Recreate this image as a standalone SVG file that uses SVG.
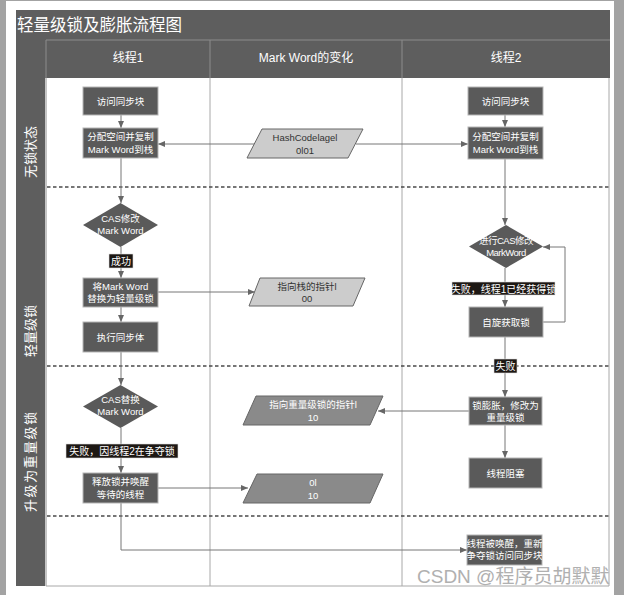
<svg xmlns="http://www.w3.org/2000/svg" width="624" height="595" viewBox="0 0 624 595">
<style>
text{font-family:"Liberation Sans","Noto Sans CJK SC",sans-serif;}
.box{fill:#5a5a5a;stroke:#b5b5b5;stroke-width:1;}
.wt{fill:#fff;font-size:9.5px;text-anchor:middle;}
.dt{fill:#333;font-size:9.5px;text-anchor:middle;}
.lp{fill:#cccccc;stroke:#666;stroke-width:1;}
.dp{fill:#8a8a8a;stroke:#666;stroke-width:1;}
.lbl{fill:#1d1814;stroke:#ddd;stroke-width:0.6;}
.lt{fill:#fff;font-size:10px;text-anchor:middle;}
.ln{fill:none;stroke:#777;stroke-width:1;}
.col{stroke:#a8a8a8;stroke-width:1;}
.dash{stroke:#4a4a4a;stroke-width:1.6;stroke-dasharray:3.5 2.5;}
.hd{fill:#fff;font-size:12px;text-anchor:middle;}
.lane{fill:#fff;font-size:13px;}
</style>
<defs>
<marker id="ah" markerWidth="8" markerHeight="8" refX="7" refY="4" orient="auto" markerUnits="userSpaceOnUse">
<path d="M0,1 L7,4 L0,7 Z" fill="#666"/>
</marker>
</defs>
<rect x="0" y="0" width="624" height="595" fill="#a3a3a3"/>
<rect x="6" y="1" width="608" height="594" fill="#fff"/>
<g id="frame">
<rect x="16" y="10" width="594" height="29" fill="#5e5e5e"/>
<text x="17" y="31" fill="#fff" font-size="16.5">轻量级锁及膨胀流程图</text>
<rect x="16" y="39" width="594" height="39" fill="#5e5e5e"/>
<rect x="16" y="39" width="29" height="547" fill="#5e5e5e"/>
<line x1="46" y1="40" x2="610" y2="40" stroke="#8c8c8c"/>
<line x1="46" y1="40" x2="46" y2="586" stroke="#8c8c8c"/>
<line x1="210" y1="40" x2="210" y2="78" stroke="#8c8c8c"/>
<line x1="402" y1="40" x2="402" y2="78" stroke="#8c8c8c"/>
<text class="hd" x="128" y="62">线程1</text>
<text class="hd" x="306" y="62">Mark Word的变化</text>
<text class="hd" x="506" y="62">线程2</text>
<line class="col" x1="210" y1="78" x2="210" y2="586"/>
<line class="col" x1="402" y1="78" x2="402" y2="586"/>
<line class="col" x1="609" y1="78" x2="609" y2="586"/>
<line class="col" x1="46" y1="586" x2="609" y2="586"/>
<line class="dash" x1="47" y1="187" x2="609" y2="187"/>
<line class="dash" x1="47" y1="366" x2="609" y2="366"/>
<line class="dash" x1="47" y1="516" x2="609" y2="516"/>
<text class="lane" transform="translate(35,178) rotate(-90)">无锁状态</text>
<text class="lane" transform="translate(35,357) rotate(-90)">轻量级锁</text>
<text class="lane" transform="translate(35,512) rotate(-90)" letter-spacing="1.5">升级为重量级锁</text>
</g>
<g id="connectors">
<line class="ln" x1="121" y1="115" x2="121" y2="128" marker-end="url(#ah)"/>
<line class="ln" x1="121" y1="158" x2="121" y2="203" marker-end="url(#ah)"/>
<line class="ln" x1="121" y1="247" x2="121" y2="278" marker-end="url(#ah)"/>
<line class="ln" x1="121" y1="307" x2="121" y2="322" marker-end="url(#ah)"/>
<line class="ln" x1="121" y1="352" x2="121" y2="385" marker-end="url(#ah)"/>
<line class="ln" x1="121" y1="428" x2="121" y2="473" marker-end="url(#ah)"/>
<polyline class="ln" points="121,503 121,550 467,550" marker-end="url(#ah)"/>
<line class="ln" x1="158" y1="292" x2="255" y2="292" marker-end="url(#ah)"/>
<line class="ln" x1="158" y1="488" x2="248" y2="488" marker-end="url(#ah)"/>
<line class="ln" x1="254" y1="144" x2="158" y2="144" marker-end="url(#ah)"/>
<line class="ln" x1="356" y1="144" x2="468" y2="144" marker-end="url(#ah)"/>
<line class="ln" x1="505" y1="115" x2="505" y2="127" marker-end="url(#ah)"/>
<line class="ln" x1="505" y1="159" x2="505" y2="225" marker-end="url(#ah)"/>
<line class="ln" x1="505" y1="268" x2="505" y2="307" marker-end="url(#ah)"/>
<polyline class="ln" points="543,322 565,322 565,247 543,247" marker-end="url(#ah)"/>
<line class="ln" x1="505" y1="337" x2="505" y2="397" marker-end="url(#ah)"/>
<line class="ln" x1="469" y1="411" x2="378" y2="411" marker-end="url(#ah)"/>
<line class="ln" x1="505" y1="425" x2="505" y2="458" marker-end="url(#ah)"/>
</g>
<g id="t1-access">
<rect class="box" x="83" y="87" width="75" height="28"/>
<text class="wt" x="120.5" y="104.5">访问同步块</text>
</g>
<g id="t1-alloc">
<rect class="box" x="83" y="128" width="75" height="30"/>
<text class="wt" x="120.5" y="140">分配空间并复制</text>
<text class="wt" x="120.5" y="153">Mark Word到栈</text>
</g>
<g id="mw-hash">
<polygon class="lp" points="262,129 363,129 348,158 247,158"/>
<text class="dt" x="305" y="141">HashCodelagel</text>
<text class="dt" x="305" y="154">0l01</text>
</g>
<g id="t2-access">
<rect class="box" x="468" y="87" width="75" height="28"/>
<text class="wt" x="505.5" y="104.5">访问同步块</text>
</g>
<g id="t2-alloc">
<rect class="box" x="468" y="127" width="75" height="32"/>
<text class="wt" x="505.5" y="140">分配空间并复制</text>
<text class="wt" x="505.5" y="153">Mark Word到栈</text>
</g>
<g id="t1-cas1">
<polygon fill="#5a5a5a" points="120.5,203 158,225 120.5,247 83,225"/>
<text class="wt" x="120.5" y="222">CAS修改</text>
<text class="wt" x="120.5" y="234">Mark Word</text>
</g>
<g id="lbl-success">
<rect class="lbl" x="109" y="254" width="24" height="14"/>
<text class="lt" x="121" y="265">成功</text>
</g>
<g id="t1-replace">
<rect class="box" x="83" y="278" width="75" height="29"/>
<text class="wt" x="120.5" y="290">将Mark Word</text>
<text class="wt" x="120.5" y="302">替换为轻量级锁</text>
</g>
<g id="t1-exec">
<rect class="box" x="83" y="322" width="75" height="30"/>
<text class="wt" x="120.5" y="340.5">执行同步体</text>
</g>
<g id="mw-stack">
<polygon class="lp" points="260,278 365,278 353,306 249,306"/>
<text class="dt" x="307" y="290">指向栈的指针l</text>
<text class="dt" x="307" y="302">00</text>
</g>
<g id="t2-cas">
<polygon fill="#5a5a5a" points="506,225 543,246.5 506,268 469,246.5"/>
<text class="wt" x="506" y="244" font-size="9" letter-spacing="-0.5">进行CAS修改</text>
<text class="wt" x="506" y="256" font-size="9" letter-spacing="-0.5">MarkWord</text>
</g>
<g id="lbl-fail1">
<rect class="lbl" x="452" y="282" width="103" height="13"/>
<text class="lt" x="503.5" y="292.5">失败，线程1已经获得锁</text>
</g>
<g id="t2-spin">
<rect class="box" x="469" y="307" width="74" height="30"/>
<text class="wt" x="506" y="325.5">自旋获取锁</text>
</g>
<g id="lbl-fail2">
<rect class="lbl" x="494" y="359" width="23" height="14"/>
<text class="lt" x="505.5" y="370">失败</text>
</g>
<g id="t1-cas2">
<polygon fill="#5a5a5a" points="120.5,385 158,406.5 120.5,428 83,406.5"/>
<text class="wt" x="120.5" y="403">CAS替换</text>
<text class="wt" x="120.5" y="415">Mark Word</text>
</g>
<g id="lbl-fail3">
<rect class="lbl" x="66" y="444" width="112" height="14"/>
<text class="lt" x="122" y="455">失败，因线程2在争夺锁</text>
</g>
<g id="t1-release">
<rect class="box" x="83" y="473" width="75" height="30"/>
<text class="wt" x="120.5" y="485">释放锁并唤醒</text>
<text class="wt" x="120.5" y="498">等待的线程</text>
</g>
<g id="mw-heavy">
<polygon class="dp" points="256,396 383,396 370,425 243,425"/>
<text class="wt" x="313" y="408">指向重量级锁的指针l</text>
<text class="wt" x="313" y="421">10</text>
</g>
<g id="mw-0l10">
<polygon class="dp" points="257,474 383,474 370,503 243,503"/>
<text class="wt" x="313" y="486">0l</text>
<text class="wt" x="313" y="499">10</text>
</g>
<g id="t2-inflate">
<rect class="box" x="469" y="397" width="73" height="28"/>
<text class="wt" x="505.5" y="409">锁膨胀，修改为</text>
<text class="wt" x="505.5" y="421">重量级锁</text>
</g>
<g id="t2-block">
<rect class="box" x="469" y="458" width="73" height="30"/>
<text class="wt" x="505.5" y="476.5">线程阻塞</text>
</g>
<g id="t2-wake">
<rect class="box" x="467" y="535" width="75" height="30"/>
<text class="wt" x="504.5" y="547" font-size="8.5">线程被唤醒，重新</text>
<text class="wt" x="504.5" y="559" font-size="8.5">争夺锁访问同步块</text>
</g>
<text x="417" y="583" font-size="19" fill="#a8a8a8" opacity="0.9">CSDN @程序员胡默默</text>
</svg>
